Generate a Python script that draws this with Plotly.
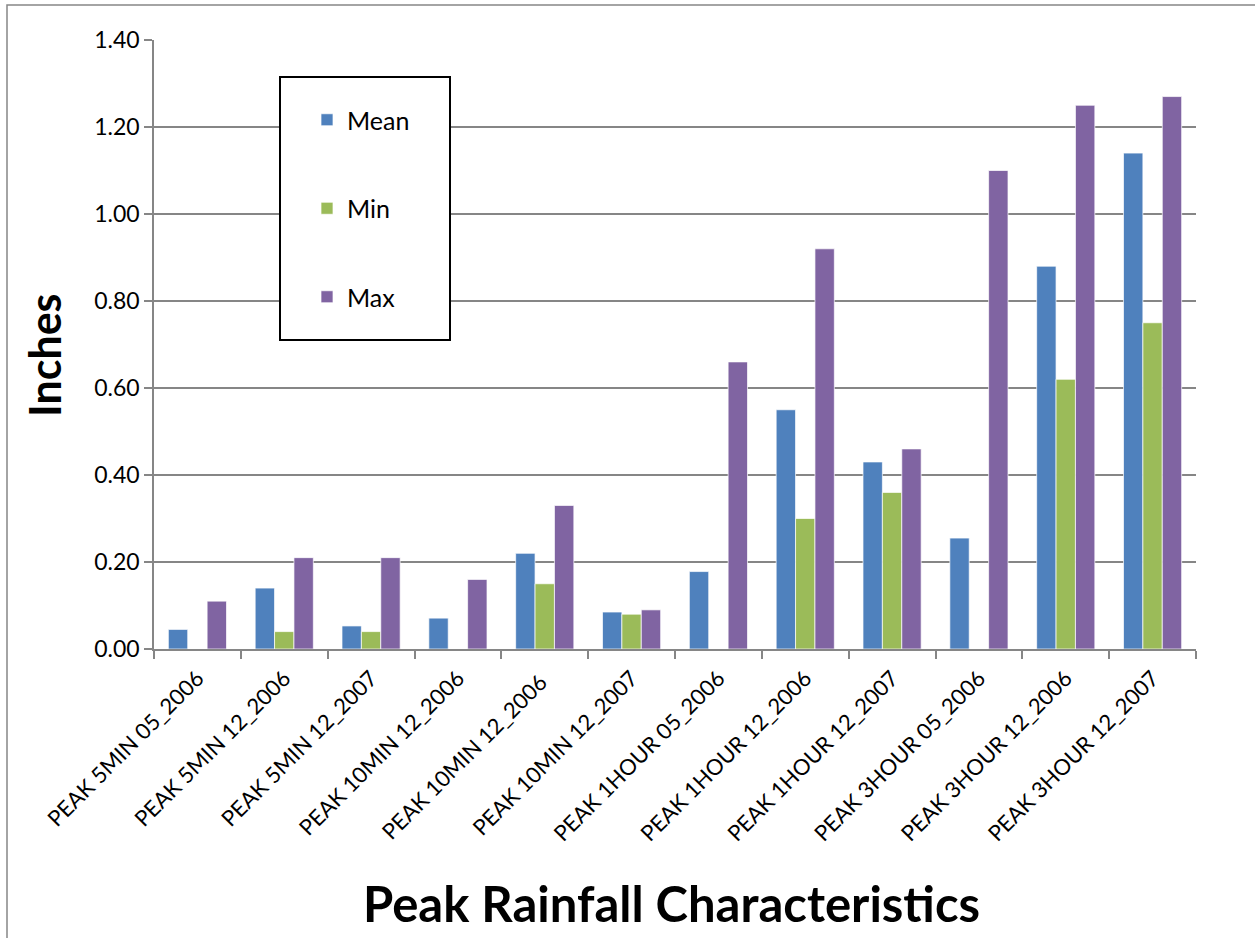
import plotly.graph_objects as go

# Peak rainfall statistics per storm window (inches)
categories = [
    "PEAK 5MIN 05_2006", "PEAK 5MIN 12_2006", "PEAK 5MIN 12_2007",
    "PEAK 10MIN 12_2006", "PEAK 10MIN 12_2006 ", "PEAK 10MIN 12_2007",
    "PEAK 1HOUR 05_2006", "PEAK 1HOUR 12_2006", "PEAK 1HOUR 12_2007",
    "PEAK 3HOUR 05_2006", "PEAK 3HOUR 12_2006", "PEAK 3HOUR 12_2007",
]
mean_vals = [0.045, 0.14, 0.053, 0.071, 0.22, 0.085, 0.178, 0.55, 0.43, 0.255, 0.88, 1.14]
min_vals = [None, 0.04, 0.04, None, 0.15, 0.08, None, 0.30, 0.36, None, 0.62, 0.75]
max_vals = [0.11, 0.21, 0.21, 0.16, 0.33, 0.09, 0.66, 0.92, 0.46, 1.10, 1.25, 1.27]

y_ticks = [0.0, 0.2, 0.4, 0.6, 0.8, 1.0, 1.2, 1.4]

W, H = 1255, 938
L, R, T, B = 154, 59, 40, 289
PW, PH = W - L - R, H - T - B


def px_x(x):
    return (x - L) / PW


def px_y(y):
    return (H - B - y) / PH


FONT = "Lato"
GRID = "#868686"

series = [
    ("Mean", mean_vals, "#4F81BD"),
    ("Min", min_vals, "#9BBB59"),
    ("Max", max_vals, "#8064A2"),
]

fig = go.Figure()
for name, vals, color in series:
    fig.add_trace(go.Bar(
        x=categories, y=vals, name=name, legendgroup=name,
        marker=dict(color=color, line=dict(color="rgba(255,255,255,0.7)", width=1)),
    ))

fig.update_layout(
    width=W, height=H,
    margin=dict(l=L, r=R, t=T, b=B, autoexpand=False),
    paper_bgcolor="white", plot_bgcolor="white",
    font=dict(family=FONT, color="black"),
    barmode="group", bargap=0.33, bargroupgap=0,
    showlegend=True,
    legend=dict(
        x=px_x(307), y=px_y(97), xanchor="left", yanchor="top",
        bgcolor="rgba(0,0,0,0)", borderwidth=0,
        font=dict(size=25, family=FONT),
        traceorder="grouped", tracegroupgap=53,
    ),
    xaxis=dict(
        type="category", showgrid=False, showline=True, linecolor=GRID, linewidth=1.5,
        ticks="outside", tickson="boundaries", ticklen=8, tickcolor=GRID, tickwidth=1.5,
        tickangle=-45, tickfont=dict(size=22, family=FONT), ticklabelstandoff=6,
    ),
    yaxis=dict(
        range=[0, 1.4], tickvals=y_ticks, tickformat=".2f",
        showgrid=True, gridcolor=GRID, gridwidth=1.5, zeroline=False,
        showline=True, linecolor=GRID, linewidth=1.5,
        ticks="outside", ticklen=8, tickcolor=GRID, tickwidth=1.5,
        tickfont=dict(size=23, family=FONT),
    ),
    shapes=[
        # outer chart frame
        dict(type="rect", xref="paper", yref="paper",
             x0=px_x(7), x1=px_x(1270), y0=px_y(950), y1=px_y(5),
             line=dict(color=GRID, width=1.5), fillcolor="rgba(0,0,0,0)", layer="below"),
        # legend frame
        dict(type="rect", xref="paper", yref="paper",
             x0=px_x(280), x1=px_x(450), y0=px_y(340), y1=px_y(77),
             line=dict(color="black", width=2), fillcolor="white", layer="above"),
    ],
    annotations=[
        dict(text="<b>Inches</b>", xref="paper", yref="paper",
             x=px_x(45), y=px_y(355), xanchor="center", yanchor="middle",
             textangle=-90, showarrow=False, font=dict(size=43, family=FONT)),
        dict(text="<b>Peak Rainfall Characteristics</b>", xref="paper", yref="paper",
             x=px_x(671), y=px_y(903), xanchor="center", yanchor="middle",
             showarrow=False, font=dict(size=49, family=FONT)),
    ],
)

fig.write_html("out.html")
